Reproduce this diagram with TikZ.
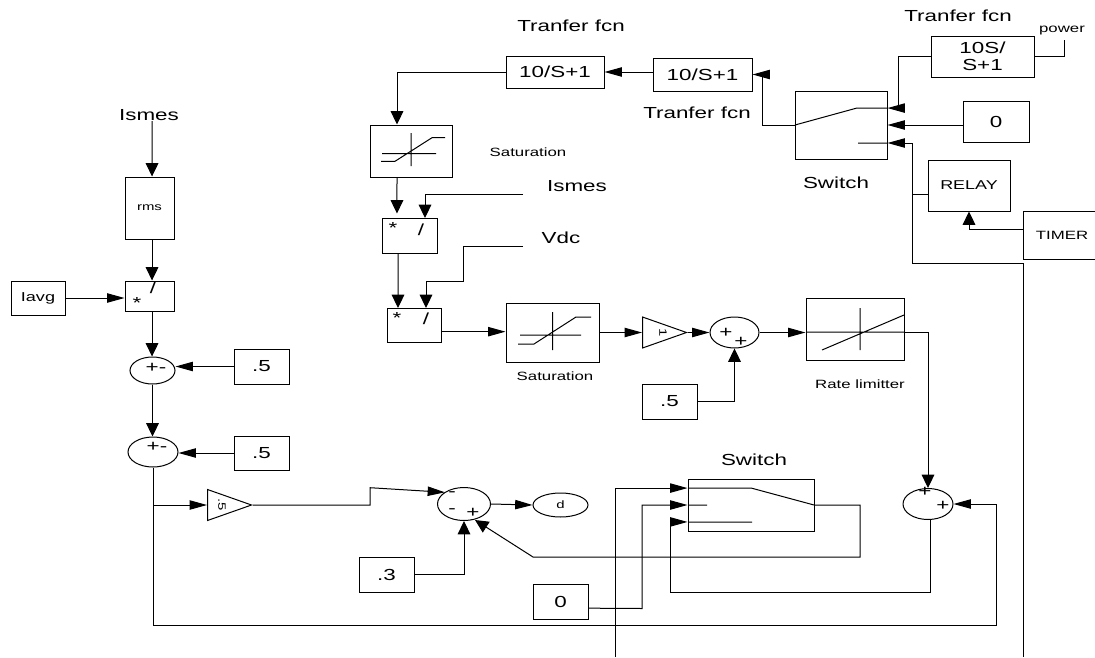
\documentclass[tikz,border=0pt]{standalone}
\usepackage{fontspec}
\setmainfont[FakeStretch=1.4]{Liberation Sans}
\usetikzlibrary{arrows.meta, shapes.geometric}
\tikzset{
  every picture/.style={line width=0.75pt},
  box/.style 2 args={draw, inner sep=0pt, minimum width=#1*0.75pt, minimum height=#2*0.75pt, font=\fontsize{12}{14}\selectfont, align=center},
  sumnode/.style 2 args={draw, ellipse, inner sep=0pt, minimum width=#1*0.75pt, minimum height=#2*0.75pt},
  gain/.style={draw, isosceles triangle, isosceles triangle stretches, shape border rotate=0, inner sep=0pt, anchor=lower side, minimum width=31*0.75pt, minimum height=44*0.75pt},
  linkh/.style={-{Triangle[length=13pt,width=7pt]}},
  linkv/.style={-{Triangle[length=10pt,width=9.5pt]}},
  biglabel/.style={inner sep=0pt, font=\fontsize{12}{14}\selectfont},
  smalllabel/.style={inner sep=0pt, font=\fontsize{9}{11}\selectfont},
  sign/.style={inner sep=0pt, font=\fontsize{12}{12}\selectfont},
  tinysign/.style={inner sep=0pt, font=\fontsize{8}{8}\selectfont},
}
\begin{document}
\begin{tikzpicture}[x=0.75pt,y=-0.75pt]
  \useasboundingbox (0,0) rectangle (1095,657);
  % left column
  \node[biglabel] (ismesa) at (149,115) {Ismes};
  \node[box={49}{62}, font=\fontsize{8}{10}\selectfont] (rms) at (149.5,208) {rms};
  \node[box={49}{30}] (diva) at (149.5,296) {};
  \node[box={54}{34}, font=\fontsize{9.7}{12}\selectfont] (iavg) at (38,298) {Iavg};
  \node[sumnode={45}{27}] (suma) at (152.5,370.5) {};
  \node[box={55}{35}] (consta) at (261.5,366.5) {.5};
  \node[sumnode={50}{30}] (sumb) at (153,452) {};
  \node[box={55}{34}] (constb) at (261.5,453) {.5};
  \node[gain] (gaina) at (207,505) {};
  \node[tinysign, rotate=-90] (gainatext) at (222,505) {.5};
  % output sum
  \node[sumnode={53}{33}] (sumd) at (464,504) {};
  \node[sumnode={55}{24}, font=\fontsize{8}{10}\selectfont] (duty) at (560.5,505) {d};
  \node[box={55}{35}] (constc) at (386.5,574.5) {.3};
  \node[box={55}{35}] (constd) at (560.5,601.5) {0};
  % top row
  \node[biglabel] (tflabela) at (571,26) {Tranfer fcn};
  \node[biglabel] (tflabelb) at (697,113) {Tranfer fcn};
  \node[biglabel] (tflabelc) at (958,16) {Tranfer fcn};
  \node[box={98}{32}] (tfa) at (555,72) {10/S+1};
  \node[box={99}{33}] (tfb) at (702.5,74.5) {10/S+1};
  \node[box={103}{41}] (tfc) at (982.5,56.5) {10S/\\[-1pt]S+1};
  \node[smalllabel] (power) at (1062,31) {power};
  \node[box={92}{68}] (swa) at (841,125) {};
  \node[biglabel] (swalabel) at (836,183) {Switch};
  \node[box={66}{41}] (conste) at (996,121.5) {0};
  \node[box={82}{51}, font=\fontsize{9.6}{12}\selectfont] (relay) at (969,185.5) {RELAY};
  \node[box={78}{48}, font=\fontsize{9}{12}\selectfont] (timer) at (1062,235) {TIMER};
  \coordinate (timerin) at (1023,657);
  % middle column
  \node[box={82}{52}] (sata) at (411,151) {};
  \node[smalllabel] (satalabel) at (528,152) {Saturation};
  \node[box={55}{35}] (divb) at (409.5,235.5) {};
  \node[biglabel] (ismesb) at (577,186) {Ismes};
  \node[box={54}{34}] (divc) at (414,325) {};
  \node[biglabel] (vdc) at (561,238) {Vdc};
  \node[box={93}{59}] (satb) at (552.5,332.5) {};
  \node[smalllabel] (satblabel) at (555,376) {Saturation};
  \node[gain] (gainb) at (642,332.5) {};
  \node[tinysign, rotate=-90] (gainbtext) at (663,333) {1};
  \node[sumnode={49}{31}] (sumc) at (734.5,332.5) {};
  \node[box={55}{35}] (constf) at (669.5,401.5) {.5};
  \node[box={98}{62}] (rate) at (855,329) {};
  \node[smalllabel] (ratelabel) at (860,384) {Rate limitter};
  % bottom switch
  \node[box={126}{52}] (swb) at (751,505) {};
  \node[biglabel] (swblabel) at (754,460) {Switch};
  \node[sumnode={50}{31}] (sume) at (928,504) {};
  \coordinate (swbin) at (615,657);
  % signs on the blocks
  \foreach \px/\py/\s [count=\i] in {156/368/{+-}, 157/447/{+-}, 137/303/*, 153/288/{/}, 393/228/*, 421/230/{/}, 397/318/*, 426/319/{/},
    452/494/-, 452/511/-, 473/513/+, 726/333/+, 741/342/+, 925/492/+, 943/506/+}
    \node[sign] (sg\i) at (\px,\py) {\s};
  % saturation and switch glyphs
  \draw (411,133) -- (411,166) (382,153.7) -- (436,153.7) (381,161.3) -- (395,161.3) -- (432,137.7) -- (445,137.7);
  \draw (552.7,312) -- (552.7,350) (520,335) -- (581,335) (518,344) -- (534,344) -- (576,317) -- (591,317);
  \draw (860,308) -- (860,350) (822,350) -- (904,315) (806,332) -- (904,332);
  \draw (795,125) -- (857,108) -- (887,108) (858,143) -- (887,143);
  \draw (688,488) -- (751,488) -- (814,505) (688,505) -- (707,505) (688,522) -- (752,522);
  % links, left
  \draw[linkv] ([xshift=2.3pt]ismesa.south) -- ([xshift=1.9pt]rms.north);
  \draw[linkv] ([xshift=1.9pt]rms.south) -- ([xshift=1.9pt]diva.north);
  \draw[linkh] (iavg.east) -- (iavg.east -| diva.west);
  \draw[linkv] ([xshift=1.9pt]diva.south) -- ([xshift=1.9pt]diva.south |- suma.north);
  \draw[linkh] (consta.west) -- (consta.west -| suma.east);
  \draw[linkv] (suma.south) -- (suma.south |- sumb.north);
  \draw[linkh] (constb.west) -- (constb.west -| sumb.east);
  \draw[linkh] (sumb.south |- gaina.lower side) -- (gaina.lower side);
  \draw[linkh] (sumb.south) -- (153,625.7) -- (996.7,625.7) |- (sume.east);
  \draw[linkh] (gaina.apex) -- (370,505) -- (370,487.7) -- (445,492.3);
  \draw[linkh] (sumd.east) -- (duty.west);
  \draw[linkv] (constc.east) -| (sumd.south);
  \draw[linkh] ([yshift=-5pt]constd.east) -- (642,608.5) |- (swb.west);
  \draw[linkh] (swbin) |- ([yshift=12.7pt]swb.west);
  \draw[linkh] ([xshift=1.5pt]sume.south) -- (930,592) -- (670,592) |- ([yshift=-12.7pt]swb.west);
  \draw[linkv] (swb.east) -- (860,505) -- (860,557) -- (533,557) -- (475,520);
  % links, top
  \draw[linkh] (tfb.west |- tfa.east) -- (tfa.east);
  \draw[linkv] (tfa.west) -| ([xshift=-10.5pt]sata.north);
  \draw[linkh] (swa.west) -- (762,125) |- (tfb.east);
  \draw[linkh] (tfc.west) -- (898,56.5) |- ([yshift=12.7pt]swa.east);
  \draw (tfc.east) -- (1064,56.5) -- (1064,40);
  \draw[linkh] (conste.west |- swa.east) -- (swa.east);
  \draw[linkh] (timerin) -- (1023,263) -- (912,263) |- ([yshift=-13.5pt]swa.east);
  \draw (relay.west |- 912,194) -- (912,194);
  \draw[linkv] (timer.west |- 969,229) -| (relay.south);
  % links, middle
  \draw[linkv] ([xshift=-10.5pt]sata.south) -- ([xshift=-9.4pt,yshift=3pt]divb.north);
  \draw[linkv] (523,194) -- (425,194) -- (425,218);
  \draw[linkv] ([xshift=-8.6pt]divb.south) -- (398,308);
  \draw[linkv] (523,246) -- (463,246) -- (463,281) -- (426,281) -- (426,308);
  \draw[linkh] ([yshift=-5pt]divc.east) -- ([yshift=-5pt]divc.east -| satb.west);
  \draw[linkh] (satb.east) -- (gainb.lower side);
  \draw[linkh] (gainb.apex) -- (sumc.west);
  \draw[linkv] (constf.east) -| (sumc.south);
  \draw[linkh] (sumc.east) -- (sumc.east -| rate.west);
  \draw[linkv] (rate.east |- 0,332) -- (928,332) -- (sume.north);
\end{tikzpicture}
\end{document}
